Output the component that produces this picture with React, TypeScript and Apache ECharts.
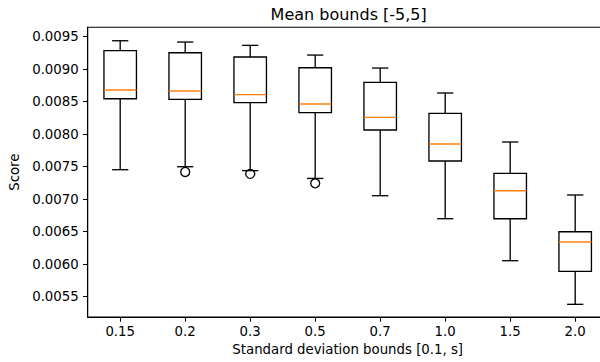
import React, { useEffect, useRef } from "react";
import * as echarts from "echarts";

const categories = ["0.15", "0.2", "0.3", "0.5", "0.7", "1.0", "1.5", "2.0"];
const lowWhisker = [0.007454, 0.0075, 0.00744, 0.00732, 0.007054, 0.0067, 0.006054, 0.005383];
const q1 = [0.008546, 0.008537, 0.008485, 0.008331, 0.008065, 0.007588, 0.0067, 0.005891];
const median = [0.00868, 0.008665, 0.008608, 0.008465, 0.00826, 0.00785, 0.00713, 0.006342];
const q3 = [0.009285, 0.009254, 0.009188, 0.009023, 0.008798, 0.008321, 0.007398, 0.0065];
const highWhisker = [0.009438, 0.009418, 0.009367, 0.009218, 0.009018, 0.008634, 0.00788, 0.007065];
const outlierCategory = ["0.2", "0.3", "0.5"];
const outlierValue = [0.00742, 0.00739, 0.007245];
const yTicks = [0.0055, 0.006, 0.0065, 0.007, 0.0075, 0.008, 0.0085, 0.009, 0.0095];
const yMin = 0.005188;
const yMax = 0.009645;

const FONT = "DejaVu Sans";

export default function App() {
  const ref = useRef<HTMLDivElement>(null);
  useEffect(() => {
    if (!ref.current) return;
    const chart = echarts.init(ref.current, undefined, { renderer: "svg" });
    const boxData = categories.map((c, i) => [i, lowWhisker[i], q1[i], median[i], q3[i], highWhisker[i]]);
    const outliers = outlierCategory.map((c, i) => [categories.indexOf(c), outlierValue[i]]);
    const line = (x1: number, y1: number, x2: number, y2: number, color: string, w: number) => ({
      type: "line",
      shape: { x1, y1, x2, y2 },
      style: { stroke: color, lineWidth: w },
    });
    chart.setOption({
      animation: false,
      backgroundColor: "#ffffff",
      graphic: [
        {
          type: "text",
          x: 348.7,
          y: 14,
          style: {
            text: "Mean bounds [-5,5]",
            font: `16px '${FONT}'`,
            fill: "#000",
            textAlign: "center",
            textVerticalAlign: "middle",
          },
        },
      ],
      grid: { left: 87.7, top: 27.3, right: 0.3, bottom: 45, show: true, borderColor: "#000", borderWidth: 1.07, backgroundColor: "transparent" },
      xAxis: {
        type: "category",
        data: categories,
        boundaryGap: true,
        name: "Standard deviation bounds [0.1, s]",
        nameLocation: "middle",
        nameGap: 26,
        nameTextStyle: { fontFamily: FONT, fontSize: 13.3, color: "#000" },
        axisLine: { show: true, onZero: false, lineStyle: { color: "#000", width: 1.07 } },
        axisTick: { show: true, alignWithLabel: true, length: 4.7, lineStyle: { color: "#000", width: 1.07 } },
        axisLabel: { fontFamily: FONT, fontSize: 13.3, color: "#000", margin: 8 },
        splitLine: { show: false },
      },
      yAxis: {
        type: "value",
        min: yMin,
        max: yMax,
        name: "Score",
        nameLocation: "middle",
        nameGap: 60,
        nameTextStyle: { fontFamily: FONT, fontSize: 13.3, color: "#000" },
        axisLine: { show: true, lineStyle: { color: "#000", width: 1.07 } },
        axisTick: { show: true, length: 4.7, customValues: yTicks, lineStyle: { color: "#000", width: 1.07 } },
        axisLabel: {
          fontFamily: FONT,
          fontSize: 13.3,
          color: "#000",
          margin: 9,
          customValues: yTicks,
          formatter: (v: number) => v.toFixed(4),
        },
        splitLine: { show: false },
      },
      series: [
        {
          type: "custom",
          data: boxData,
          encode: { x: 0, y: [1, 2, 3, 4, 5] },
          renderItem: (params: any, api: any) => {
            const idx = api.value(0);
            const pLow = api.coord([idx, api.value(1)]);
            const pQ1 = api.coord([idx, api.value(2)]);
            const pMed = api.coord([idx, api.value(3)]);
            const pQ3 = api.coord([idx, api.value(4)]);
            const pHigh = api.coord([idx, api.value(5)]);
            const band = api.size([1, 0])[0];
            const cx = pMed[0];
            const bw = band * 0.5;
            const cw = band * 0.25;
            const lw = 1.33;
            return {
              type: "group",
              children: [
                line(cx, pQ1[1], cx, pLow[1], "#000", lw),
                line(cx, pQ3[1], cx, pHigh[1], "#000", lw),
                line(cx - cw / 2, pLow[1], cx + cw / 2, pLow[1], "#000", lw),
                line(cx - cw / 2, pHigh[1], cx + cw / 2, pHigh[1], "#000", lw),
                {
                  type: "rect",
                  shape: { x: cx - bw / 2, y: pQ3[1], width: bw, height: pQ1[1] - pQ3[1] },
                  style: { fill: "none", stroke: "#000", lineWidth: lw },
                },
                line(cx - bw / 2, pMed[1], cx + bw / 2, pMed[1], "#ff7f0e", lw),
              ],
            };
          },
        },
        {
          type: "scatter",
          data: outliers,
          symbol: "circle",
          symbolSize: 9,
          itemStyle: { color: "transparent", borderColor: "#000", borderWidth: 1.33, opacity: 1 },
        },
      ],
    });
    return () => chart.dispose();
  }, []);
  return <div ref={ref} style={{ position: "fixed", left: 0, top: 0, width: 608, height: 362 }} />;
}
